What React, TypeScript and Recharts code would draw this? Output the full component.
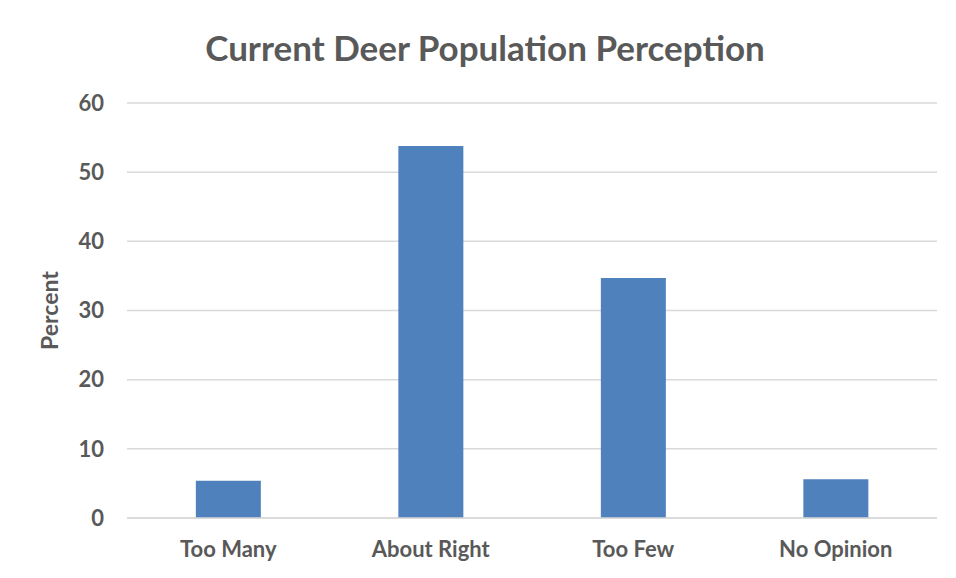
import React from 'react';
import { BarChart, Bar, XAxis, YAxis, CartesianGrid, Customized } from 'recharts';

const categories = ['Too Many', 'About Right', 'Too Few', 'No Opinion'];
const percents = [5.4, 53.8, 34.7, 5.6];
const yTicks = [0, 10, 20, 30, 40, 50, 60];

const data = categories.map((name, i) => ({ name, percent: percents[i] }));

const FONT = 'Lato, "Open Sans", sans-serif';
const GREY = '#595959';

// black frame on the left and top edges, as in the source screenshot
const Frame = () => (
  <g>
    <line x1={5} y1={6} x2={956} y2={6} stroke="#000" strokeWidth={2} />
    <line x1={6} y1={5} x2={6} y2={578} stroke="#000" strokeWidth={2} />
  </g>
);

export default function App() {
  return (
    <div style={{ position: 'relative', width: 956, height: 578, margin: -8, background: '#fff' }}>
      <div
        style={{
          position: 'absolute',
          left: 0,
          width: 970,
          top: 26,
          textAlign: 'center',
          fontFamily: FONT,
          fontWeight: 700,
          fontSize: 35,
          color: GREY,
        }}
      >
        Current Deer Population Perception
      </div>
      <div style={{ position: 'absolute', left: 0, top: 0 }}>
        <BarChart
          width={956}
          height={578}
          data={data}
          margin={{ top: 103, right: 19, bottom: 30, left: 0 }}
          barCategoryGap="34%"
        >
          <CartesianGrid vertical={false} stroke="#d9d9d9" strokeWidth={1.5} />
          <XAxis
            dataKey="name"
            height={30}
            axisLine={{ stroke: '#d9d9d9', strokeWidth: 1.5 }}
            tickLine={false}
            tickMargin={17}
            tick={{ fill: GREY, fontFamily: FONT, fontWeight: 700, fontSize: 22 }}
          />
          <YAxis
            width={127}
            domain={[0, 60]}
            ticks={yTicks}
            axisLine={false}
            tickLine={false}
            tickMargin={17}
            tick={{ fill: GREY, fontFamily: FONT, fontWeight: 700, fontSize: 22 }}
            label={{
              value: 'Percent',
              angle: -90,
              position: 'insideLeft',
              offset: 50,
              style: { fill: GREY, fontFamily: FONT, fontWeight: 700, fontSize: 23, textAnchor: 'middle' },
            }}
          />
          <Bar dataKey="percent" fill="#4f81bd" isAnimationActive={false} />
          <Customized component={Frame} />
        </BarChart>
      </div>
    </div>
  );
}
